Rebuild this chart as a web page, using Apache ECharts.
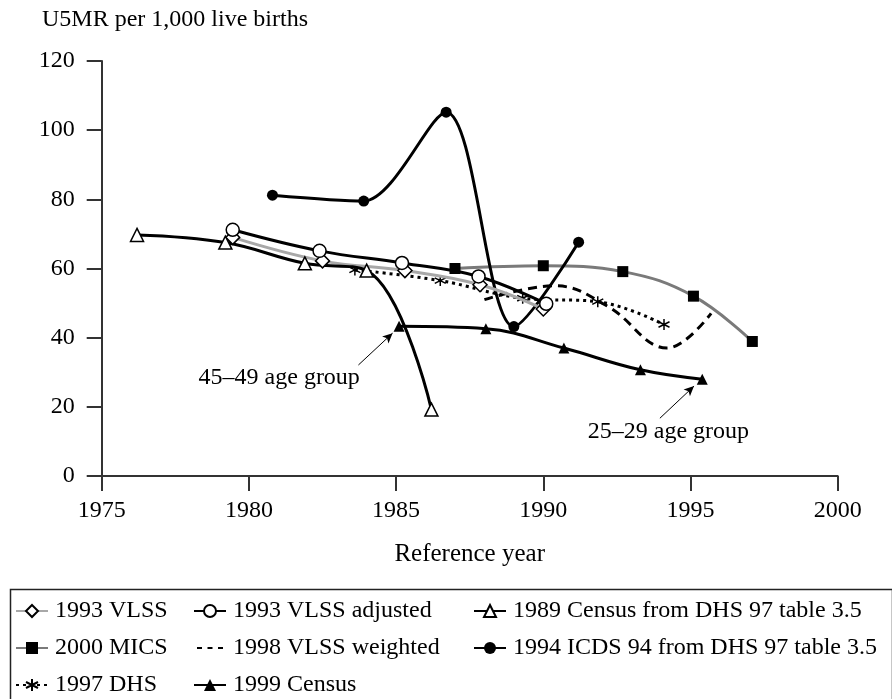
<!DOCTYPE html>
<html>
<head>
<meta charset="utf-8">
<script src="https://cdn.jsdelivr.net/npm/echarts@6/dist/echarts.min.js"></script>
<style>
html,body{margin:0;padding:0;background:#fff;}
#c{width:892px;height:699px;}
</style>
</head>
<body>
<div id="c"></div>
<script>
// ---- data ----
var xTicks = [1975, 1980, 1985, 1990, 1995, 2000];
var yTicks = [0, 20, 40, 60, 80, 100, 120];

var vlss93 = [[1979.45, 69.0], [1982.5, 62.2], [1985.3, 59.4], [1987.85, 55.3], [1990.0, 48.3]];
var vlss93adj = [[1979.45, 71.2], [1982.4, 65.1], [1985.2, 61.6], [1987.8, 57.7], [1990.1, 49.8]];
var census89 = [[1976.2, 69.7], [1979.2, 67.5], [1981.9, 61.5], [1984.0, 59.4], [1986.2, 19.2]];
var mics2000 = [[1987.0, 60.0], [1990.0, 60.8], [1992.7, 59.1], [1995.1, 52.0], [1997.1, 38.9]];
var vlss98w = [[1988.0, 51.0], [1990.4, 55.0], [1992.2, 49.0], [1994.2, 37.0], [1995.7, 47.0]];
var icds94 = [[1980.8, 81.2], [1983.9, 79.5], [1986.7, 105.2], [1989.0, 43.2], [1991.2, 67.6]];
var dhs97 = [[1983.6, 59.6], [1986.5, 56.5], [1989.3, 51.4], [1991.85, 50.4], [1994.1, 43.8]];
var census99 = [[1985.1, 43.3], [1988.05, 42.6], [1990.7, 37.0], [1993.3, 30.7], [1995.4, 28.0]];

var names = ['1993 VLSS', '1993 VLSS adjusted', '1989 Census from DHS 97 table 3.5',
             '2000 MICS', '1998 VLSS weighted', '1994 ICDS 94 from DHS 97 table 3.5',
             '1997 DHS', '1999 Census'];
var legendCols = [
  ['1993 VLSS', '2000 MICS', '1997 DHS'],
  ['1993 VLSS adjusted', '1998 VLSS weighted', '1999 Census'],
  ['1989 Census from DHS 97 table 3.5', '1994 ICDS 94 from DHS 97 table 3.5']
];
var annoText = ['45\u201349 age group', '25\u201329 age group'];
var annoTextPos = [[1981.03, 28.3], [1994.25, 12.8]];
var annoArrows = [
  [[1983.72, 32.1], [1984.88, 41.3]],
  [[1993.96, 16.7], [1995.12, 26.0]]
];

// ---- chart ----
var FONT = 'Liberation Serif';
var asterisk = 'path://M0,-10L0,10M-8.66,-5L8.66,5M-8.66,5L8.66,-5';
var dashIcon = 'path://M3,6.5h5v2h-5zM13.5,6.5h5v2h-5zM24,6.5h5v2h-5zM0,0h0.001v0.001h-0.001zM31.999,14.999h0.001v0.001h-0.001z';
var chart = echarts.init(document.getElementById('c'), null, {renderer: 'canvas'});

function lineSeries(name, data, opts) {
  return {
    name: name,
    type: 'line',
    data: data,
    smooth: opts.smooth || 0.4,
    symbol: opts.symbol,
    symbolSize: opts.size,
    showSymbol: opts.symbol !== 'none',
    lineStyle: {color: opts.lineColor, width: 3, type: opts.type || 'solid'},
    itemStyle: {color: opts.fill, borderColor: '#000', borderWidth: opts.bw == null ? 1.5 : opts.bw},
    emphasis: {disabled: true},
    z: opts.z || 2
  };
}

var series = [
  lineSeries(names[0], vlss93, {symbol: 'diamond', size: 14, lineColor: '#a8a8a8', fill: '#fff', z: 3}),
  lineSeries(names[1], vlss93adj, {symbol: 'circle', size: 13, lineColor: '#000', fill: '#fff', z: 4}),
  lineSeries(names[2], census89, {symbol: 'triangle', size: 13, lineColor: '#000', fill: '#fff', z: 3}),
  lineSeries(names[3], mics2000, {symbol: 'rect', size: 11, lineColor: '#7a7a7a', fill: '#000', bw: 0}),
  lineSeries(names[4], vlss98w, {symbol: 'none', size: 0, lineColor: '#000', fill: '#000', type: [9, 6]}),
  lineSeries(names[5], icds94, {symbol: 'circle', size: 11, lineColor: '#000', fill: '#000', bw: 0, smooth: 0.3}),
  lineSeries(names[6], dhs97, {symbol: asterisk, size: 11, lineColor: '#000', fill: '#000', type: [3, 4]}),
  lineSeries(names[7], census99, {symbol: 'triangle', size: 11, lineColor: '#000', fill: '#000', bw: 0})
];

// annotation arrows and labels attached to the 1999 Census series
series[7].markLine = {
  silent: true,
  symbol: ['none', 'arrow'],
  symbolSize: [7, 10],
  label: {show: false},
  lineStyle: {color: '#000', width: 1, type: 'solid'},
  data: annoArrows.map(function (a) {
    return [{coord: a[0]}, {coord: a[1]}];
  })
};
series[7].markPoint = {
  silent: true,
  symbol: 'circle',
  symbolSize: 0,
  label: {
    show: true, position: 'inside', color: '#000',
    fontFamily: FONT, fontSize: 24,
    formatter: function (p) { return p.name; }
  },
  data: annoText.map(function (t, i) {
    return {name: t, coord: annoTextPos[i]};
  })
};

var legendTop = 599;
var legendLefts = [15, 193, 473];
var legends = legendCols.map(function (col, i) {
  return {
    orient: 'vertical',
    left: legendLefts[i],
    top: legendTop,
    padding: 0,
    itemWidth: 32,
    itemHeight: 15,
    itemGap: 13,
    selectedMode: false,
    data: col.map(function (n) {
      return n === '1998 VLSS weighted'
        ? {name: n, icon: dashIcon, itemStyle: {color: '#000', borderWidth: 0, borderColor: 'transparent'}}
        : {name: n};
    }),
    textStyle: {fontFamily: FONT, fontSize: 24, color: '#000', lineHeight: 24, padding: [0, 0, 0, 2]}
  };
});

var option = {
  animation: false,
  backgroundColor: '#fff',
  textStyle: {fontFamily: FONT},
  grid: {left: 101.7, right: 54.3, top: 61, bottom: 223, containLabel: false},
  xAxis: {
    type: 'value',
    min: xTicks[0], max: xTicks[xTicks.length - 1], interval: 5,
    name: 'Reference year',
    nameLocation: 'middle',
    nameGap: 66,
    nameTextStyle: {fontFamily: FONT, fontSize: 25, color: '#000'},
    axisLine: {show: true, onZero: false, lineStyle: {color: '#333', width: 2}},
    axisTick: {show: true, length: 15, lineStyle: {color: '#333', width: 2}},
    axisLabel: {fontFamily: FONT, fontSize: 24, color: '#000', margin: 23,
                formatter: function (v) { return String(v); }},
    splitLine: {show: false}
  },
  yAxis: {
    type: 'value',
    min: yTicks[0], max: yTicks[yTicks.length - 1], interval: 20,
    axisLine: {show: true, lineStyle: {color: '#333', width: 2}},
    axisTick: {show: true, length: 15, lineStyle: {color: '#333', width: 2}},
    axisLabel: {fontFamily: FONT, fontSize: 24, color: '#000', margin: 27},
    splitLine: {show: false}
  },
  legend: legends,
  graphic: [
    {
      type: 'text', left: 42, top: 8,
      style: {text: 'U5MR per 1,000 live births', fontFamily: FONT, fontSize: 24, fill: '#000'}
    },
    {
      type: 'rect', left: 8, top: 587, z: -1,
      shape: {width: 882, height: 200},
      style: {fill: 'none', stroke: '#222', lineWidth: 1.5}
    }
  ],
  series: series
};
chart.setOption(option);
</script>
</body>
</html>
